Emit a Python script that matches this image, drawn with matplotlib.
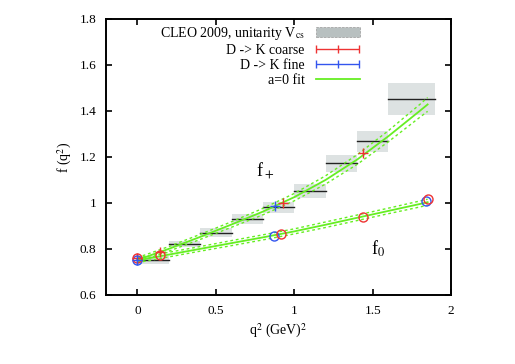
import matplotlib
matplotlib.use("Agg")
import matplotlib.pyplot as plt
from matplotlib.patches import Patch
from matplotlib.lines import Line2D
from matplotlib.legend_handler import HandlerErrorbar

# CLEO 2009 bins (q^2 low, q^2 high, value, half-height)
bin_lo = [0.0, 0.2, 0.4, 0.6, 0.8, 1.0, 1.2, 1.4, 1.6]
bin_hi = [0.2, 0.4, 0.6, 0.8, 1.0, 1.2, 1.4, 1.6, 1.9]
bin_val = [0.752, 0.822, 0.871, 0.930, 0.981, 1.052, 1.172, 1.268, 1.451]
bin_err = [0.016, 0.014, 0.020, 0.022, 0.024, 0.032, 0.038, 0.046, 0.070]

# lattice points: coarse (red) and fine (blue)
coarse_q2 = [0.0, 0.146, 0.93, 1.435]
coarse_fp = [0.760, 0.785, 1.000, 1.219]
coarse_fp_err = [0.008, 0.012, 0.010, 0.010]
coarse_q2_f0 = [0.0, 0.146, 0.915, 1.435, 1.855]
coarse_f0 = [0.760, 0.772, 0.865, 0.940, 1.017]
fine_q2 = [0.0, 0.88]
fine_fp = [0.752, 0.988]
fine_q2_f0 = [0.0, 0.87, 1.84]
fine_f0 = [0.750, 0.858, 1.009]

# a=0 fit curves with error bands
fit_q2 = [0.0, 0.2, 0.4, 0.6, 0.8, 1.0, 1.2, 1.4, 1.6, 1.8, 1.85]
fit_fp = [0.752, 0.800, 0.852, 0.906, 0.962, 1.025, 1.100, 1.188, 1.290, 1.400, 1.428]
fit_fp_err = [0.010, 0.010, 0.011, 0.012, 0.014, 0.016, 0.018, 0.021, 0.024, 0.028, 0.030]
fit_f0 = [0.750, 0.775, 0.800, 0.825, 0.850, 0.876, 0.905, 0.935, 0.965, 0.995, 1.003]
fit_f0_err = [0.010, 0.010, 0.010, 0.011, 0.011, 0.011, 0.012, 0.012, 0.012, 0.013, 0.013]

plt.rcParams['font.family'] = ['Liberation Serif', 'DejaVu Serif']
plt.rcParams['mathtext.fontset'] = 'stix'

fig = plt.figure(figsize=(5.15, 3.64), dpi=100)
ax = fig.add_axes([0.206, 0.19, 0.670, 0.758])

box_col = '#dde2e2'
for lo, hi, v, e in zip(bin_lo, bin_hi, bin_val, bin_err):
    ax.fill_between([lo, hi], v - e, v + e, color=box_col, lw=0, zorder=1)
    ax.plot([lo, hi], [v, v], color='#222222', lw=1.0, zorder=2)

green = '#66ee22'
for y, err in [(fit_fp, fit_fp_err), (fit_f0, fit_f0_err)]:
    ax.plot(fit_q2, y, color=green, lw=1.3, zorder=4)
    ax.plot(fit_q2, [a + b for a, b in zip(y, err)], color=green, lw=1.0, ls=(0, (2, 2)), zorder=4)
    ax.plot(fit_q2, [a - b for a, b in zip(y, err)], color=green, lw=1.0, ls=(0, (2, 2)), zorder=4)

red = '#ee3333'
blue = '#3355ee'
ax.errorbar(coarse_q2, coarse_fp, yerr=coarse_fp_err, fmt='+', color=red, ms=7, mew=1.0,
            elinewidth=0.8, capsize=0, zorder=5)
ax.errorbar(fine_q2, fine_fp, yerr=0.008, fmt='+', color=blue, ms=7, mew=1.0,
            elinewidth=0.8, capsize=0, zorder=5)
ax.plot(fine_q2_f0, fine_f0, 'o', mfc='none', mec=blue, ms=6.5, mew=1.0, zorder=5)
ax.plot(coarse_q2_f0, coarse_f0, 'o', mfc='none', mec=red, ms=6.5, mew=1.0, zorder=5)

ax.text(0.815, 1.14, r'f$_+$', fontsize=13, ha='center', va='center')
ax.text(1.535, 0.80, r'f$_0$', fontsize=13, ha='center', va='center')

ax.set_xlim(-0.2, 2.0)
ax.set_ylim(0.6, 1.8)
ax.set_xticks([0, 0.5, 1, 1.5, 2])
ax.set_xticklabels(['0', '0.5', '1', '1.5', '2'])
ax.set_yticks([0.6, 0.8, 1.0, 1.2, 1.4, 1.6, 1.8])
ax.set_yticklabels(['0.6', '0.8', '1', '1.2', '1.4', '1.6', '1.8'])
ax.tick_params(direction='in', top=True, right=True, length=4, width=1.2, labelsize=9.5, pad=7)
for s in ax.spines.values():
    s.set_linewidth(1.4)
ax.set_xlabel(r'q$^2$ (GeV)$^2$', fontsize=10)
ax.set_ylabel(r'f (q$^2$)', fontsize=10)

# legend-only errorbar handles (NaN data draws nothing on the axes)
h_red = ax.errorbar([float('nan')], [float('nan')], xerr=[1], fmt='|', color=red, ms=6,
                    elinewidth=1, capsize=3)
h_blue = ax.errorbar([float('nan')], [float('nan')], xerr=[1], fmt='|', color=blue, ms=6,
                     elinewidth=1, capsize=3)
handles = [
    Patch(facecolor='#b8c0c0', edgecolor='#999999', ls='--', lw=0.5),
    h_red,
    h_blue,
    Line2D([0], [0], color=green, lw=1.3),
]
labels = [r'CLEO 2009, unitarity V$_{\mathrm{cs}}$', 'D -> K coarse', 'D -> K fine', 'a=0 fit']
ax.legend(handles, labels, loc='upper right', bbox_to_anchor=(0.76, 1.01), frameon=False,
          markerfirst=False, fontsize=10, handlelength=3.2, handletextpad=0.8,
          labelspacing=0.15, borderaxespad=0.2,
          handler_map={h_red: HandlerErrorbar(xerr_size=1.55),
                       h_blue: HandlerErrorbar(xerr_size=1.55)})

fig.savefig('out.png', dpi=100)
